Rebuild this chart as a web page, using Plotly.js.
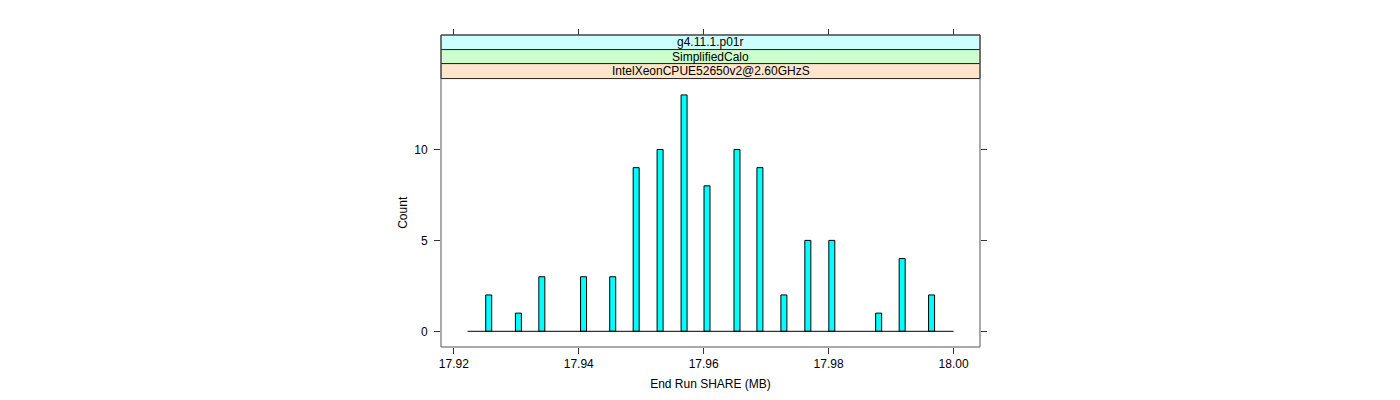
<!DOCTYPE html>
<html>
<head>
<meta charset="utf-8">
<script src="https://cdn.plot.ly/plotly-3.0.1.min.js"></script>
<style>
  html, body { margin: 0; padding: 0; background: #fff; }
  #chart { width: 1400px; height: 400px; }
</style>
</head>
<body>
<div id="chart"></div>
<script>
// histogram bins (bin centres in MB) and their counts
const binCenters = [17.92559, 17.93034, 17.93409, 17.94077, 17.94544, 17.94919,
                    17.95302, 17.95686, 17.96053, 17.96533, 17.96900, 17.97284,
                    17.97667, 17.98051, 17.98801, 17.99177, 17.99648];
const counts = [2, 1, 3, 3, 3, 9, 10, 13, 8, 10, 9, 2, 5, 5, 1, 4, 2];
const binWidth = 0.00096;
// range of the histogram breaks (drawn as the base line)
const breakRange = [17.9222, 18.0];

const xTicks = [17.92, 17.94, 17.96, 17.98, 18.00];
const xTickText = ['17.92', '17.94', '17.96', '17.98', '18.00'];
const yTicks = [0, 5, 10];

// strip labels, from the top strip down
const stripLabels = ['g4.11.1.p01r', 'SimplifiedCalo', 'IntelXeonCPUE52650v2@2.60GHzS'];
const stripColors = ['#CCFFFF', '#CCFFCC', '#FFE5CC'];

const xRange = [17.91795, 18.00423];
const yRange = [-0.863, 13.90];
const font = 'Liberation Sans, Arial, Helvetica, sans-serif';

const bars = {
  type: 'bar',
  x: binCenters,
  y: counts,
  width: binCenters.map(() => binWidth),
  marker: { color: '#00FFFF', line: { color: '#000', width: 1 } },
  hoverinfo: 'x+y',
  showlegend: false
};

const baseLine = {
  type: 'scatter',
  mode: 'lines',
  x: breakRange,
  y: [0, 0],
  line: { color: '#000', width: 1 },
  hoverinfo: 'skip',
  showlegend: false
};

// empty trace so the top tick axis gets drawn
const topAxisTrace = {
  type: 'scatter', mode: 'markers', x: [], y: [], xaxis: 'x2', yaxis: 'y',
  hoverinfo: 'skip', showlegend: false
};

// strip edges in paper coordinates
const stripEdges = [1.0, 0.9533, 0.9084, 0.8604];
const shapes = [];
const annotations = [];
stripLabels.forEach((lab, i) => {
  shapes.push({
    type: 'rect', xref: 'paper', yref: 'paper',
    x0: 0, x1: 1, y0: stripEdges[i + 1], y1: stripEdges[i],
    fillcolor: stripColors[i], line: { color: '#222', width: 1 }, layer: 'below'
  });
  annotations.push({
    xref: 'paper', yref: 'paper', x: 0.5, y: (stripEdges[i] + stripEdges[i + 1]) / 2,
    text: lab, showarrow: false, xanchor: 'center', yanchor: 'middle',
    font: { family: font, size: 12, color: '#000' }
  });
});
// panel frame
shapes.push({
  type: 'rect', xref: 'paper', yref: 'paper', x0: 0, x1: 1, y0: 0, y1: 1,
  line: { color: '#555', width: 1 }, layer: 'above'
});

const layout = {
  width: 1400,
  height: 400,
  margin: { l: 440.5, r: 419.5, t: 34.7, b: 53 },
  paper_bgcolor: '#fff',
  plot_bgcolor: '#fff',
  font: { family: font, size: 12, color: '#000' },
  bargap: 0,
  xaxis: {
    range: xRange,
    tickvals: xTicks,
    ticktext: xTickText,
    ticks: 'outside',
    ticklen: 6,
    tickcolor: '#333',
    showgrid: false,
    zeroline: false,
    showline: false,
    title: { text: 'End Run SHARE (MB)', standoff: 9, font: { size: 12 } },
    automargin: false
  },
  xaxis2: {
    overlaying: 'x',
    anchor: 'free',
    position: 1,
    side: 'top',
    range: xRange,
    tickvals: xTicks,
    ticks: 'outside',
    ticklen: 6,
    tickcolor: '#333',
    showticklabels: false,
    showgrid: false,
    zeroline: false,
    showline: false
  },
  yaxis: {
    domain: [0, 0.8604],
    range: yRange,
    tickvals: yTicks,
    ticks: 'outside',
    ticklen: 6,
    tickcolor: '#333',
    mirror: 'ticks',
    ticklabelstandoff: 4,
    showgrid: false,
    zeroline: false,
    showline: false,
    title: { text: 'Count', standoff: 4, font: { size: 12 } },
    automargin: false
  },
  shapes: shapes,
  annotations: annotations
};

Plotly.newPlot('chart', [bars, baseLine, topAxisTrace], layout, { displayModeBar: false, staticPlot: true });
</script>
</body>
</html>
